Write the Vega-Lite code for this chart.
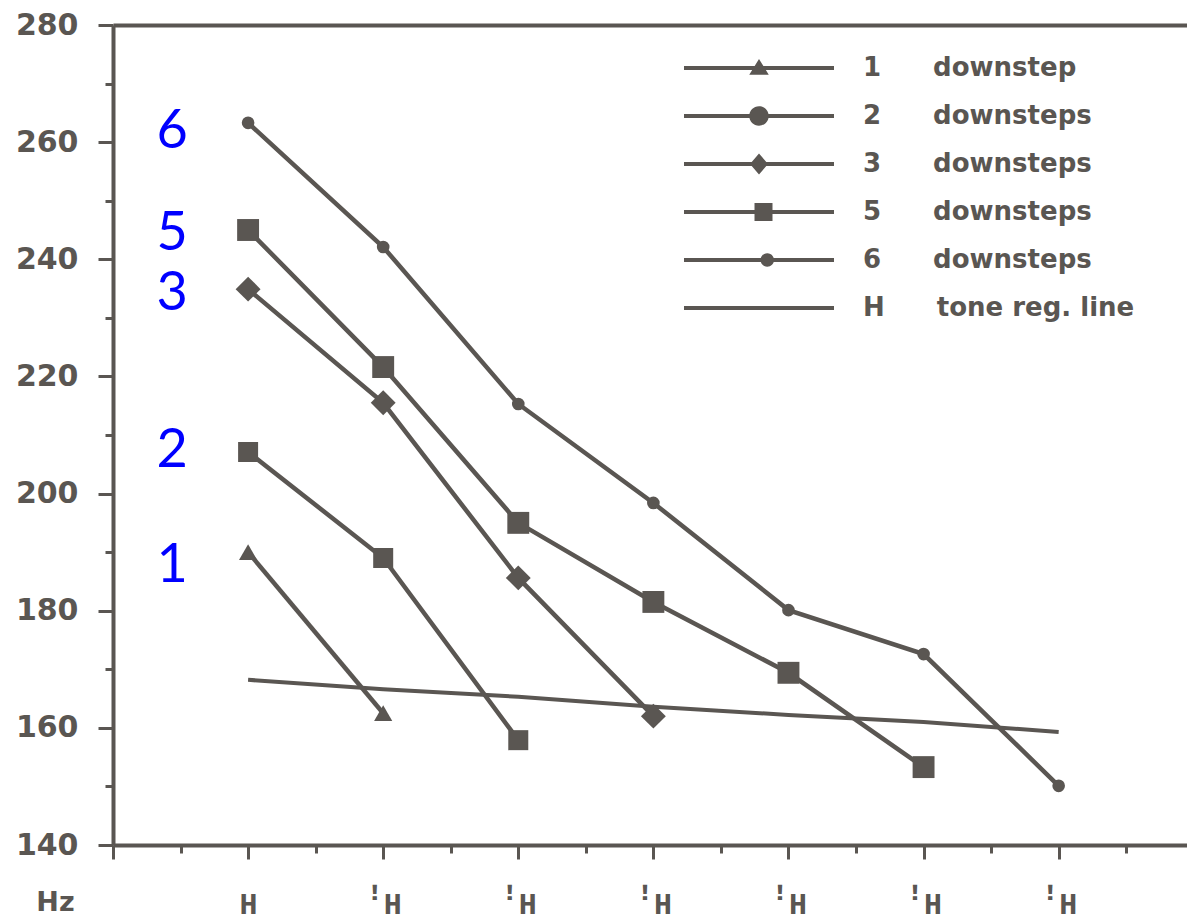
{
  "$schema": "https://vega.github.io/schema/vega-lite/v6.json",
  "width": 1074,
  "height": 820,
  "autosize": {"type": "none"},
  "padding": {"left": 113, "top": 25, "right": 0, "bottom": 76},
  "background": "white",
  "config": {
    "view": {"stroke": null},
    "axis": {"grid": false, "domainColor": "#5a5652", "domainWidth": 4, "tickColor": "#5a5652", "tickWidth": 3, "labelColor": "#5a5652"}
  },
  "datasets": {
    "series": [
      {"series": "1", "pos": 1, "hz": 190.0},
      {"series": "1", "pos": 2, "hz": 162.5},
      {"series": "2", "pos": 1, "hz": 207.1},
      {"series": "2", "pos": 2, "hz": 189.0},
      {"series": "2", "pos": 3, "hz": 157.9},
      {"series": "3", "pos": 1, "hz": 234.9},
      {"series": "3", "pos": 2, "hz": 215.5},
      {"series": "3", "pos": 3, "hz": 185.6},
      {"series": "3", "pos": 4, "hz": 162.0},
      {"series": "5", "pos": 1, "hz": 245.0},
      {"series": "5", "pos": 2, "hz": 221.6},
      {"series": "5", "pos": 3, "hz": 195.0},
      {"series": "5", "pos": 4, "hz": 181.5},
      {"series": "5", "pos": 5, "hz": 169.4},
      {"series": "5", "pos": 6, "hz": 153.3},
      {"series": "6", "pos": 1, "hz": 263.3},
      {"series": "6", "pos": 2, "hz": 242.1},
      {"series": "6", "pos": 3, "hz": 215.3},
      {"series": "6", "pos": 4, "hz": 198.4},
      {"series": "6", "pos": 5, "hz": 180.1},
      {"series": "6", "pos": 6, "hz": 172.6},
      {"series": "6", "pos": 7, "hz": 150.1}
    ],
    "reg": [
      {"pos": 1, "hz": 168.2},
      {"pos": 2, "hz": 166.6},
      {"pos": 3, "hz": 165.3},
      {"pos": 4, "hz": 163.6},
      {"pos": 5, "hz": 162.2},
      {"pos": 6, "hz": 161.0},
      {"pos": 7, "hz": 159.3}
    ],
    "tags": [
      {"tag": "6", "pos": 0.437, "hz": 259.0},
      {"tag": "5", "pos": 0.437, "hz": 241.6},
      {"tag": "3", "pos": 0.437, "hz": 231.3},
      {"tag": "2", "pos": 0.437, "hz": 204.5},
      {"tag": "1", "pos": 0.437, "hz": 184.9}
    ]
  },
  "layer": [
    {
      "data": {"name": "reg"},
      "mark": {"type": "line", "color": "#5a5652", "strokeWidth": 4},
      "encoding": {
        "x": {
          "field": "pos", "type": "quantitative",
          "scale": {"domain": [0, 7.95], "nice": false, "zero": false},
          "axis": {
            "orient": "bottom",
            "values": [0, 0.5, 1, 1.5, 2, 2.5, 3, 3.5, 4, 4.5, 5, 5.5, 6, 6.5, 7, 7.5],
            "labelExpr": "datum.value === 1 ? 'H' : ((datum.value % 1 === 0 && datum.value > 1 && datum.value < 8) ? 'ꜝH' : '')",
            "tickSize": {"condition": {"test": "datum.value % 1 === 0", "value": 14}, "value": 8},
            "labelFont": "Liberation Mono",
            "labelFontSize": 30,
            "labelFontWeight": "bold",
            "labelPadding": 30,
            "labelFlush": false,
            "labelOverlap": false,
            "title": null
          }
        },
        "y": {
          "field": "hz", "type": "quantitative",
          "scale": {"domain": [140, 280], "nice": false, "zero": false},
          "axis": {
            "values": [140, 150, 160, 170, 180, 190, 200, 210, 220, 230, 240, 250, 260, 270, 280],
            "labelExpr": "datum.value % 20 === 0 ? datum.label : ''",
            "tickSize": {"condition": {"test": "datum.value % 20 === 0", "value": 15}, "value": 8},
            "labelFont": "DejaVu Sans",
            "labelFontSize": 30,
            "labelFontWeight": "bold",
            "labelPadding": 20,
            "labelOverlap": false,
            "labelFlush": false,
            "title": "Hz",
            "titleAngle": 0,
            "titleX": -58,
            "titleY": 877,
            "titleAlign": "center",
            "titleBaseline": "middle",
            "titleFont": "DejaVu Sans",
            "titleFontSize": 27,
            "titleFontWeight": "bold",
            "titleColor": "#5a5652"
          }
        }
      }
    },
    {
      "data": {"name": "series"},
      "mark": {"type": "line", "color": "#5a5652", "strokeWidth": 4.5},
      "encoding": {
        "x": {"field": "pos", "type": "quantitative", "axis": null},
        "y": {"field": "hz", "type": "quantitative"},
        "detail": {"field": "series", "type": "nominal"}
      }
    },
    {
      "data": {"name": "series"},
      "mark": {"type": "point", "filled": true, "color": "#5a5652", "opacity": 1},
      "encoding": {
        "x": {"field": "pos", "type": "quantitative", "axis": null},
        "y": {"field": "hz", "type": "quantitative"},
        "shape": {
          "field": "series", "type": "nominal",
          "scale": {"domain": ["1", "2", "3", "5", "6"], "range": ["triangle-up", "square", "diamond", "square", "circle"]},
          "legend": null
        },
        "size": {
          "field": "series", "type": "nominal",
          "scale": {"type": "ordinal", "domain": ["1", "2", "3", "5", "6"], "range": [330, 400, 620, 480, 160]},
          "legend": null
        }
      }
    },
    {
      "data": {"name": "series"},
      "transform": [{"filter": "false"}],
      "mark": {"type": "point", "filled": true, "color": "#5a5652"},
      "encoding": {
        "x": {"field": "pos", "type": "quantitative", "axis": {"orient": "top", "ticks": false, "labels": false, "domain": true, "title": null, "domainWidth": 4}},
        "y": {"field": "hz", "type": "quantitative"},
        "shape": {
          "field": "item", "type": "nominal",
          "scale": {
            "domain": ["1\u2003\u2003downstep", "2\u2003\u2003downsteps", "3\u2003\u2003downsteps", "5\u2003\u2003downsteps", "6\u2003\u2003downsteps", "H\u2003\u2003tone reg. line"],
            "range": [
              "M-1,-0.027H1V0.027H-1ZM0,-0.12L0.13,0.09L-0.13,0.09Z",
              "M-1,-0.027H1V0.027H-1ZM0.13,0A0.13,0.13 0 1,1 -0.13,0A0.13,0.13 0 1,1 0.13,0Z",
              "M-1,-0.027H1V0.027H-1ZM0,-0.14L0.12,0L0,0.14L-0.12,0Z",
              "M-1,-0.027H1V0.027H-1ZM-0.06,-0.12H0.18V0.12H-0.06Z",
              "M-1,-0.027H1V0.027H-1ZM0.2,0A0.09,0.09 0 1,1 0.02,0A0.09,0.09 0 1,1 0.2,0Z",
              "M-1,-0.027H1V0.027H-1Z"
            ]
          },
          "legend": {
            "title": null,
            "orient": "none",
            "legendX": 570,
            "legendY": 28,
            "padding": 0,
            "symbolSize": 22500,
            "clipHeight": 30,
            "rowPadding": 18,
            "labelOffset": 28,
            "labelFont": "DejaVu Sans",
            "labelFontSize": 26,
            "labelFontWeight": "bold",
            "labelColor": "#5a5652",
            "labelLimit": 500,
            "symbolFillColor": "#5a5652",
            "symbolOpacity": 1,
            "encode": {
              "symbols": {
                "fill": {"value": "#5a5652"},
                "opacity": {"value": 1}
              }
            }
          }
        }
      }
    },
    {
      "data": {"name": "tags"},
      "mark": {"type": "text", "font": "Lato", "fontSize": 54, "color": "#0000ff", "align": "center", "baseline": "alphabetic"},
      "encoding": {
        "x": {"field": "pos", "type": "quantitative", "axis": null},
        "y": {"field": "hz", "type": "quantitative"},
        "text": {"field": "tag", "type": "nominal"}
      }
    }
  ],
  "resolve": {
    "scale": {"shape": "independent", "size": "independent"},
    "axis": {"x": "independent"},
    "legend": {"shape": "independent"}
  }
}
